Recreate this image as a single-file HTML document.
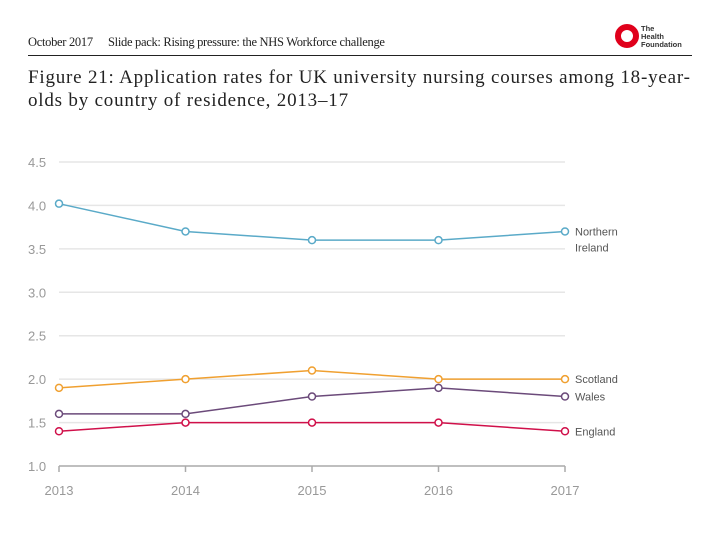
<!DOCTYPE html>
<html><head><meta charset="utf-8"><style>
body{margin:0;width:720px;height:540px;background:#fff;overflow:hidden;position:relative;font-family:"Liberation Serif",serif}
.hdr{position:absolute;top:35px;font-size:12.5px;color:#222;letter-spacing:-0.3px}
</style></head><body>
<div class="hdr" style="left:28px">October 2017</div>
<div class="hdr" style="left:108px">Slide pack: Rising pressure: the NHS Workforce challenge</div>
<div style="position:absolute;left:28px;top:55px;width:664px;height:1px;background:#222"></div>
<svg style="position:absolute;left:612px;top:22px" width="85" height="30">
<circle cx="15" cy="14" r="9" fill="none" stroke="#e0001b" stroke-width="6"/>
<text x="29" y="9" font-family="Liberation Sans" font-size="7.5" font-weight="bold" fill="#333">The</text>
<text x="29" y="17" font-family="Liberation Sans" font-size="7.5" font-weight="bold" fill="#333">Health</text>
<text x="29" y="25" font-family="Liberation Sans" font-size="7.5" font-weight="bold" fill="#333">Foundation</text>
</svg>
<div style="position:absolute;left:28px;top:66px;font-size:19px;letter-spacing:0.8px;line-height:23px;color:#222;width:690px">Figure 21: Application rates for UK university nursing courses among 18-year-<br>olds by country of residence, 2013–17</div>
<svg id="chart" style="position:absolute;left:0;top:0" width="720" height="540"></svg>
<script>
const years=["2013","2014","2015","2016","2017"];
const yTicks=[1.0,1.5,2.0,2.5,3.0,3.5,4.0,4.5];
const northernIreland=[4.02,3.7,3.6,3.6,3.7];
const scotland=[1.9,2.0,2.1,2.0,2.0];
const wales=[1.6,1.6,1.8,1.9,1.8];
const england=[1.4,1.5,1.5,1.5,1.4];
const svg=document.getElementById('chart');const NS='http://www.w3.org/2000/svg';
const x=i=>59+i*126.5;const y=v=>466-(v-1)*86.86;
function mk(t,a){const e=document.createElementNS(NS,t);for(const k in a)e.setAttribute(k,a[k]);svg.appendChild(e);return e;}
yTicks.forEach(v=>{
 if(v>1){const g=mk('line',{x1:59,x2:565,y1:y(v),y2:y(v),stroke:'#e6e6e6','stroke-width':1.5});
 
 }
 const t=mk('text',{x:28,y:y(v)+5,'font-family':'Liberation Sans','font-size':13,fill:'#999'});t.textContent=v.toFixed(1);
 
 
});
const ax=mk('line',{x1:59,x2:565,y1:466,y2:466,stroke:'#aaa','stroke-width':1.5});


years.forEach((yr,i)=>{
 const tk=mk('line',{x1:x(i),x2:x(i),y1:466,y2:472,stroke:'#aaa','stroke-width':1.5});
 
 
 const t=mk('text',{x:x(i),y:495,'text-anchor':'middle','font-family':'Liberation Sans','font-size':13,fill:'#999'});t.textContent=yr;
 
 
});
const series=[[northernIreland,'#5aaac8',['Northern','Ireland'],'northern-ireland'],[scotland,'#f0a030',['Scotland'],'scotland'],[wales,'#6b4a7a',['Wales'],'wales'],[england,'#d0104a',['England'],'england']];
series.forEach(([d,c,lab,n])=>{
 const p=mk('polyline',{points:d.map((v,i)=>x(i)+','+y(v)).join(' '),fill:'none',stroke:c,'stroke-width':1.5});
 
 
 d.forEach((v,i)=>{const m=mk('circle',{cx:x(i),cy:y(v),r:3.5,fill:'#fff',stroke:c,'stroke-width':1.5});
 
 });
 const ly=y(d[d.length-1]);
 lab.forEach((s,k)=>{const t=mk('text',{x:575,y:ly+4+k*16,'font-family':'Liberation Sans','font-size':11,fill:'#555'});t.textContent=s;
 
 });
});
</script>
</body></html>
